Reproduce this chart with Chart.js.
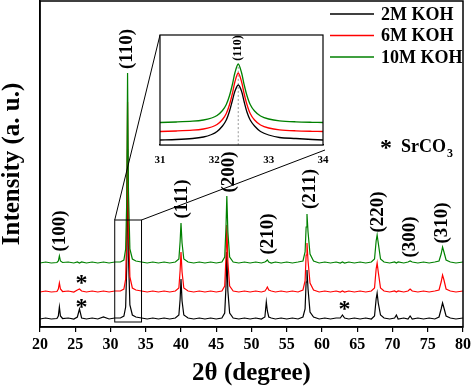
<!DOCTYPE html>
<html>
<head>
<meta charset="utf-8">
<script src="https://cdn.jsdelivr.net/npm/chart.js@4"></script>
<style>
  body { margin: 0; background: #fff; }
  #wrap { position: relative; width: 474px; height: 389px; }
  #mainChart { position: absolute; left: 0; top: 0; }
  #insetChart { position: absolute; left: 150px; top: 25px; }
</style>
</head>
<body>
<div id="wrap">
  <canvas id="mainChart" width="474" height="389"></canvas>
  <canvas id="insetChart" width="190" height="145"></canvas>
</div>
<script>
// ---- main pattern (2θ in degrees, intensity in a.u., series already offset) ----
const angles = [
  20, 20.8, 21.6, 22.4, 22.6, 22.75, 22.9, 23.2, 24, 24.8,
  25.3, 25.6, 25.9, 26.6, 27.4, 28.2, 29, 29.8, 30.6, 31.4,
  31.9, 32.15, 32.3, 32.42, 32.55, 32.75, 33.1, 33.6, 34.4, 35.2,
  36, 36.8, 37.6, 38.4, 39.2, 39.7, 39.88, 40, 40.15, 40.4,
  41, 41.8, 42.6, 43.4, 44.2, 45, 45.8, 46.2, 46.38, 46.5,
  46.65, 46.9, 47.4, 48.2, 49, 49.8, 50.6, 51.4, 51.9, 52.1,
  52.25, 52.45, 52.8, 53.4, 54.2, 55, 55.8, 56.6, 57.3, 57.6,
  57.75, 57.87, 58.02, 58.3, 58.8, 59.6, 60.4, 61.2, 62, 62.6,
  62.9, 63.2, 63.8, 64.6, 65.4, 66.2, 67, 67.45, 67.68, 67.82,
  67.98, 68.3, 68.8, 69.6, 70.3, 70.55, 70.8, 71.6, 72.2, 72.5,
  72.8, 73.6, 74.4, 75.2, 76, 76.6, 76.9, 77.1, 77.3, 77.6,
  78.2, 79, 80
];
const koh2M = [
  8, 9, 8, 8.5, 11, 20, 11, 8.5, 9, 8,
  10, 18, 9, 8, 9, 8, 10, 8, 9, 9,
  11, 20, 60, 178, 70, 22, 12, 10, 9, 8,
  9, 8, 9, 8, 9, 12, 28, 48, 26, 12,
  9, 8, 9, 8, 9, 8, 9, 14, 40, 75,
  36, 14, 9, 8, 9, 8, 9, 8, 10, 25,
  16, 10, 9, 8, 9, 8, 9, 8, 10, 18,
  45, 57, 38, 15, 10, 8, 9, 8, 9, 9,
  12, 9, 8, 9, 8, 9, 8, 11, 28, 34,
  24, 12, 9, 8, 9, 12, 8, 9, 8, 11,
  8, 9, 8, 9, 8, 10, 18, 24, 19, 11,
  9, 8, 9
];
const koh6M = [
  35, 36, 35, 35.5, 38, 44, 38, 35.5, 36, 35,
  37, 38, 36, 35, 36, 35, 36, 35, 36, 36,
  38, 48, 92, 225, 100, 50, 39, 37, 36, 35,
  36, 35, 36, 35, 36, 39, 57, 75, 55, 39,
  36, 35, 36, 35, 36, 35, 36, 41, 70, 102,
  65, 41, 36, 35, 36, 35, 36, 35, 36, 38,
  40, 37, 36, 35, 36, 35, 36, 35, 37, 46,
  72, 84, 66, 44, 37, 35, 36, 35, 36, 35,
  36, 35, 36, 35, 36, 35, 36, 39, 58, 64,
  55, 39, 36, 35, 36, 35, 36, 35, 36, 38,
  36, 35, 36, 35, 36, 37, 45, 52, 47, 38,
  36, 35, 36
];
const koh10M = [
  64, 65, 64, 64.5, 66, 71, 66, 64.5, 65, 64,
  65, 64, 65, 64, 65, 64, 65, 64, 65, 65,
  67, 78, 125, 254, 135, 78, 68, 66, 65, 64,
  65, 64, 65, 64, 65, 68, 86, 104, 84, 68,
  65, 64, 65, 64, 65, 64, 65, 70, 100, 131,
  95, 70, 65, 64, 65, 64, 65, 64, 65, 66,
  67, 65, 64, 65, 64, 65, 64, 65, 66, 75,
  100, 113, 95, 73, 66, 64, 65, 64, 65, 64,
  65, 64, 65, 64, 65, 64, 65, 68, 86, 92,
  84, 68, 65, 64, 65, 64, 65, 64, 65, 66,
  65, 64, 65, 64, 65, 66, 73, 80, 75, 67,
  65, 64, 65
];
const seriesNames = ['2M KOH', '6M KOH', '10M KOH'];
const seriesColors = ['#000000', '#ff0000', '#008000'];
const xTicks = [20, 25, 30, 35, 40, 45, 50, 55, 60, 65, 70, 75, 80];

// peak indexing labels (2θ where the label sits)
const hklLabels = ['(100)', '(110)', '(111)', '(200)', '(210)', '(211)', '(220)', '(300)', '(310)'];
const hklAngles = [22.8, 32.4, 40.1, 46.8, 52.4, 58.3, 67.9, 72.5, 77.0];
const hklHeights = [96, 278, 128, 155, 93, 138, 115, 90, 104];
// SrCO3 impurity marks: [2θ, intensity]
const starAngles = [25.9, 25.9, 63.2];
const starHeights = [48, 24, 22];

// ---- inset: zoom on (110) ----
const insetAngles = [31, 31.3, 31.6, 31.8, 31.95, 32.05, 32.15, 32.22, 32.28, 32.33, 32.38, 32.44,
  32.5, 32.55, 32.6, 32.66, 32.74, 32.85, 33, 33.2, 33.5, 33.8, 34];
const inset2M = [5, 5.5, 6.5, 8, 10.5, 13.5, 19, 25, 34, 44, 54, 60,
  54, 43, 33, 25, 19, 13.5, 10, 7.5, 6.5, 5.5, 5];
const inset6M = [13.5, 14, 14.8, 16, 18, 20.5, 25.5, 31.5, 40.5, 51, 63.5, 72,
  63.5, 51, 40.5, 31.5, 25, 20, 17, 15.2, 14.2, 13.7, 13.5];
const inset10M = [22.5, 23, 23.8, 25, 27, 29.5, 34.5, 40.5, 49.5, 60, 72.5, 81,
  72.5, 60, 49.5, 40.5, 34, 29, 26, 24.2, 23.2, 22.7, 22.5];
const insetTicks = [31, 32, 33, 34];
const peak110 = 32.44;
const zoomBox = [30.6, 34.4, 5, 107]; // x0, x1, y0, y1 in data units

const FONT = "'Liberation Serif', 'Times New Roman', serif";
Chart.defaults.font.family = FONT;
Chart.defaults.font.weight = 'bold';
Chart.defaults.color = '#000';

function toPoints(xs, ys) {
  return xs.map((x, i) => ({ x: x, y: ys[i] }));
}

// inset first so the main chart can hook its connector lines to it
const insetFrame = {
  id: 'insetFrame',
  beforeDatasetsDraw(chart) {
    const a = chart.chartArea, ctx = chart.ctx;
    ctx.save();
    ctx.fillStyle = '#fff';
    ctx.fillRect(a.left, a.top, a.right - a.left, a.bottom - a.top);
    ctx.restore();
  },
  afterDraw(chart) {
    const a = chart.chartArea, ctx = chart.ctx;
    ctx.save();
    ctx.strokeStyle = '#000';
    ctx.lineWidth = 1.2;
    ctx.strokeRect(a.left, a.top, a.right - a.left, a.bottom - a.top);
    ctx.fillStyle = '#000';
    ctx.font = 'bold 12px ' + FONT;
    ctx.translate(chart.scales.x.getPixelForValue(peak110), a.top + 13);
    ctx.rotate(-Math.PI / 2);
    ctx.textAlign = 'center';
    ctx.textBaseline = 'middle';
    ctx.fillText('(110)', 0, 0);
    ctx.restore();
  }
};

const insetChart = new Chart(document.getElementById('insetChart'), {
  type: 'scatter',
  data: {
    datasets: [
      { data: toPoints(insetAngles, inset10M), borderColor: seriesColors[2], order: 1 },
      { data: toPoints(insetAngles, inset6M), borderColor: seriesColors[1], order: 2 },
      { data: toPoints(insetAngles, inset2M), borderColor: seriesColors[0], order: 3 },
      { data: [{ x: peak110, y: 0 }, { x: peak110, y: 81 }], borderColor: '#999', borderDash: [2, 2],
        borderWidth: 1, order: 4 }
    ]
  },
  options: {
    responsive: false,
    animation: false,
    showLine: true,
    elements: { point: { radius: 0 }, line: { borderWidth: 1.3, tension: 0.3 } },
    layout: { padding: { left: 10, top: 10, right: 17, bottom: 0 } },
    plugins: { legend: { display: false }, tooltip: { enabled: false } },
    scales: {
      x: {
        type: 'linear', min: 31, max: 34,
        afterBuildTicks: s => { s.ticks = insetTicks.map(v => ({ value: v })); },
        afterFit: s => { s.height = 25; },
        grid: { display: false },
        border: { display: true, color: '#000', width: 1.2 },
        ticks: { font: { size: 11, weight: 'bold' }, padding: 1, maxRotation: 0 }
      },
      y: { display: false, min: 0, max: 110 }
    }
  },
  plugins: [insetFrame]
});

const decorations = {
  id: 'decorations',
  afterDraw(chart) {
    const ctx = chart.ctx, a = chart.chartArea;
    const xs = chart.scales.x, ys = chart.scales.y;
    ctx.save();
    // frame
    ctx.strokeStyle = '#000';
    ctx.lineWidth = 1.5;
    ctx.strokeRect(a.left, a.top, a.right - a.left, a.bottom - a.top);

    // zoom box and connectors to the inset
    const bx0 = xs.getPixelForValue(zoomBox[0]), bx1 = xs.getPixelForValue(zoomBox[1]);
    const by0 = ys.getPixelForValue(zoomBox[3]), by1 = ys.getPixelForValue(zoomBox[2]);
    ctx.lineWidth = 1;
    ctx.strokeRect(bx0, by0, bx1 - bx0, by1 - by0);
    const ia = insetChart.chartArea;
    ctx.beginPath();
    ctx.moveTo(bx0, by0);
    ctx.lineTo(150 + ia.left, 25 + ia.top);
    ctx.moveTo(bx1, by0);
    ctx.lineTo(150 + ia.right + 2, 25 + ia.bottom + 5);
    ctx.stroke();

    ctx.fillStyle = '#000';
    // peak labels
    ctx.font = 'bold 19px ' + FONT;
    ctx.textAlign = 'center';
    ctx.textBaseline = 'middle';
    hklLabels.forEach((t, i) => {
      ctx.save();
      ctx.translate(xs.getPixelForValue(hklAngles[i]), ys.getPixelForValue(hklHeights[i]));
      ctx.rotate(-Math.PI / 2);
      ctx.fillText(t, 0, 0);
      ctx.restore();
    });
    // impurity marks
    ctx.font = 'bold 24px ' + FONT;
    ctx.textBaseline = 'alphabetic';
    starAngles.forEach((x, i) => {
      ctx.fillText('*', xs.getPixelForValue(x), ys.getPixelForValue(starHeights[i]) + 11);
    });

    // legend
    ctx.textAlign = 'left';
    ctx.textBaseline = 'middle';
    ctx.font = 'bold 18px ' + FONT;
    seriesNames.forEach((n, i) => {
      const y = 14 + i * 21.5;
      ctx.strokeStyle = seriesColors[i];
      ctx.lineWidth = 1.5;
      ctx.beginPath();
      ctx.moveTo(330, y);
      ctx.lineTo(374, y);
      ctx.stroke();
      ctx.fillText(n, 381, y + 1);
    });

    // SrCO3 key
    ctx.textBaseline = 'alphabetic';
    ctx.font = 'bold 24px ' + FONT;
    ctx.fillText('*', 380, 155);
    ctx.font = 'bold 18px ' + FONT;
    ctx.fillText('SrCO', 401, 152);
    const w = ctx.measureText('SrCO').width;
    ctx.font = 'bold 12px ' + FONT;
    ctx.fillText('3', 401 + w + 1, 157);

    // axis titles
    ctx.font = 'bold 25px ' + FONT;
    ctx.textAlign = 'center';
    ctx.textBaseline = 'middle';
    ctx.fillText('2\u03b8 (degree)', (a.left + a.right) / 2, 374);
    ctx.translate(13, 164);
    ctx.rotate(-Math.PI / 2);
    ctx.fillText('Intensity (a. u.)', 0, 0);
    ctx.restore();
  }
};

new Chart(document.getElementById('mainChart'), {
  type: 'scatter',
  data: {
    datasets: [
      { label: seriesNames[0], data: toPoints(angles, koh2M), borderColor: seriesColors[0], order: 3 },
      { label: seriesNames[1], data: toPoints(angles, koh6M), borderColor: seriesColors[1], order: 2 },
      { label: seriesNames[2], data: toPoints(angles, koh10M), borderColor: seriesColors[2], order: 1 }
    ]
  },
  options: {
    responsive: false,
    animation: false,
    showLine: true,
    elements: { point: { radius: 0 }, line: { borderWidth: 1.2, tension: 0 } },
    layout: { padding: { left: 0, top: 1, right: 7, bottom: 0 } },
    plugins: { legend: { display: false }, tooltip: { enabled: false } },
    scales: {
      x: {
        type: 'linear', min: 20, max: 80,
        afterBuildTicks: s => { s.ticks = xTicks.map(v => ({ value: v })); },
        afterFit: s => { s.height = 62; },
        grid: { display: true, drawOnChartArea: false, drawTicks: true, tickLength: 5, color: '#000', lineWidth: 1.2 },
        border: { display: true, color: '#000', width: 1.5 },
        ticks: { font: { size: 16, weight: 'bold' }, padding: 3, maxRotation: 0 }
      },
      y: {
        min: 0, max: 326,
        afterFit: s => { s.width = 40; },
        grid: { display: false },
        border: { display: true, color: '#000', width: 1.5 },
        ticks: { display: false }
      }
    }
  },
  plugins: [decorations]
});
</script>
</body>
</html>
